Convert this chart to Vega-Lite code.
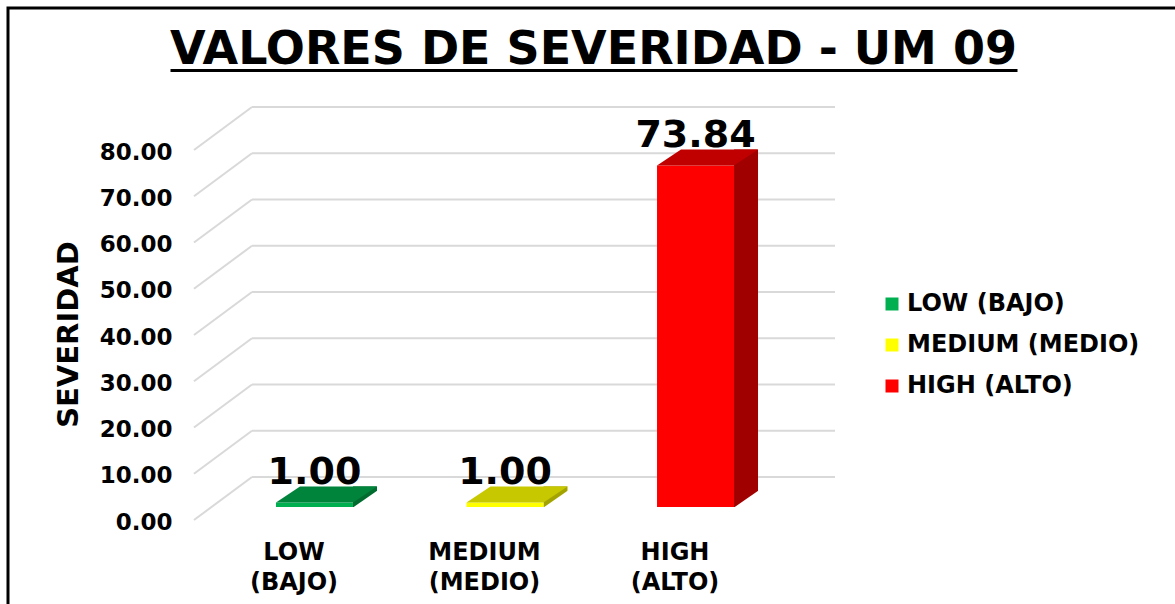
{
  "$schema": "https://vega.github.io/schema/vega-lite/v6.json",
  "autosize": "none",
  "padding": {"left": 8, "top": 8, "right": 0, "bottom": 0},
  "width": 1171,
  "height": 620,
  "background": "white",
  "config": {
    "view": {"stroke": "black", "strokeWidth": 3},
    "font": "DejaVu Sans",
    "axisX": {
      "orient": "bottom", "offset": -98, "domain": false, "ticks": false, "grid": false,
      "labelAngle": 0, "labelFont": "DejaVu Sans", "labelFontWeight": "bold", "labelFontSize": 24,
      "labelColor": "black", "labelPadding": 10, "labelBaseline": "top", "labelLineHeight": 30,
      "labelOffset": -59, "labelLimit": 0
    },
    "axisY": {
      "orient": "left", "offset": -190, "domain": false, "ticks": false, "tickSize": 0, "grid": false,
      "labelFont": "DejaVu Sans", "labelFontWeight": "bold", "labelFontSize": 23, "labelColor": "black",
      "labelPadding": 26, "labelOffset": 45, "labelBaseline": "middle", "labelFlush": false, "labelOverlap": false,
      "titleFont": "DejaVu Sans", "titleFontSize": 29, "titleFontWeight": "bold",
      "titleColor": "black", "titleX": -130, "titleY": 326, "titleAngle": 270, "titleAlign": "center",
      "titleBaseline": "middle"
    }
  },
  "title": {
    "text": "VALORES DE SEVERIDAD - UM 09",
    "font": "DejaVu Sans",
    "fontSize": 46,
    "fontWeight": "bold",
    "color": "black",
    "anchor": "middle",
    "offset": -102,
    "baseline": "alphabetic"
  },
  "datasets": {
    "severidad": [
      {"category": "LOW (BAJO)", "value": 1.00},
      {"category": "MEDIUM (MEDIO)", "value": 1.00},
      {"category": "HIGH (ALTO)", "value": 73.84}
    ],
    "ticks": [
      {"v": 0}, {"v": 10}, {"v": 20}, {"v": 30}, {"v": 40},
      {"v": 50}, {"v": 60}, {"v": 70}, {"v": 80}
    ]
  },
  "resolve": {"scale": {"x": "independent"}, "axis": {"x": "independent"}},
  "layer": [
    {
      "layer": [
        {
          "data": {"name": "ticks"},
          "mark": {"type": "rule", "color": "#D9D9D9", "strokeWidth": 2, "xOffset": -101, "x2Offset": 101},
          "encoding": {
            "x": {"datum": "LOW (BAJO)", "type": "nominal", "title": null,
                  "scale": {"domain": ["LOW (BAJO)", "MEDIUM (MEDIO)", "HIGH (ALTO)"], "range": [244, 827], "paddingInner": 0, "paddingOuter": 0.03}},
            "x2": {"datum": "HIGH (ALTO)"},
            "y": {"field": "v", "type": "quantitative", "title": "SEVERIDAD",
                  "scale": {"domain": [0, 80], "range": [469, 99], "nice": false, "zero": true}}
          }
        },
        {
          "data": {"name": "ticks"},
          "mark": {"type": "rule", "color": "#D9D9D9", "strokeWidth": 2, "xOffset": -159, "x2Offset": -101, "yOffset": 43, "y2Offset": 0},
          "encoding": {
            "x": {"datum": "LOW (BAJO)", "type": "nominal", "title": null},
            "x2": {"datum": "LOW (BAJO)"},
            "y": {"field": "v", "type": "quantitative", "title": "SEVERIDAD"},
            "y2": {"field": "v"}
          }
        },
        {
          "data": {"name": "severidad"},
          "mark": {"type": "bar", "width": 24, "xOffset": 12, "yOffset": 14, "y2Offset": 30},
          "encoding": {
            "x": {"field": "category", "type": "nominal", "title": null},
            "y": {"field": "value", "type": "quantitative", "title": "SEVERIDAD"},
            "y2": {"datum": 0},
            "color": {
              "condition": [
                {"test": "datum.category === 'HIGH (ALTO)'", "value": "#A00000"},
                {"test": "datum.category === 'MEDIUM (MEDIO)'", "value": "#A3A300"}
              ],
              "value": "#006B2E"
            }
          }
        },
        {
          "data": {"name": "severidad"},
          "mark": {"type": "point", "shape": "M0,30.5L24.5,13.5L26,13.5L26,32L0,32Z", "size": 4, "filled": true, "opacity": 1, "strokeWidth": 0, "color": "white"},
          "encoding": {
            "x": {"field": "category", "type": "nominal", "title": null},
            "y": {"datum": 0, "type": "quantitative", "title": "SEVERIDAD"}
          }
        },
        {
          "data": {"name": "severidad"},
          "mark": {"type": "bar", "width": 77, "xOffset": -38.5, "yOffset": 30, "y2Offset": 30},
          "encoding": {
            "x": {
              "field": "category", "type": "nominal", "title": null,
              "axis": {"labelExpr": "split(datum.label, ' ')"}
            },
            "y": {
              "field": "value", "type": "quantitative", "title": "SEVERIDAD",
              "axis": {"values": [0, 10, 20, 30, 40, 50, 60, 70, 80], "format": ".2f"}
            },
            "y2": {"datum": 0},
            "color": {
              "field": "category", "type": "nominal",
              "scale": {"domain": ["LOW (BAJO)", "MEDIUM (MEDIO)", "HIGH (ALTO)"], "range": ["#00B050", "#FFFF00", "#FF0000"]},
              "legend": {
                "orient": "none", "legendX": 872, "legendY": 284, "title": null,
                "symbolType": "square", "symbolSize": 169, "symbolStrokeWidth": 0, "symbolOpacity": 1,
                "labelFont": "DejaVu Sans", "labelFontWeight": "bold", "labelFontSize": 24, "labelColor": "black",
                "labelOffset": 3, "rowPadding": 17, "padding": 0, "labelLimit": 0
              }
            }
          }
        },
        {
          "data": {"name": "severidad"},
          "mark": {"type": "point", "shape": "M-77,30L0,30L24,14L-53,14Z", "size": 4, "filled": true, "opacity": 1, "strokeWidth": 0},
          "encoding": {
            "x": {"field": "category", "type": "nominal", "title": null},
            "y": {"field": "value", "type": "quantitative", "title": "SEVERIDAD"},
            "color": {
              "condition": [
                {"test": "datum.category === 'HIGH (ALTO)'", "value": "#C00000"},
                {"test": "datum.category === 'MEDIUM (MEDIO)'", "value": "#C8C800"}
              ],
              "value": "#00843C"
            }
          }
        },
        {
          "data": {"name": "severidad"},
          "mark": {"type": "text", "dx": -38.5, "dy": 12, "font": "DejaVu Sans", "fontWeight": "bold", "fontSize": 38, "baseline": "alphabetic", "align": "center", "color": "black"},
          "encoding": {
            "x": {"field": "category", "type": "nominal", "title": null},
            "y": {"field": "value", "type": "quantitative", "title": "SEVERIDAD"},
            "text": {"field": "value", "type": "quantitative", "format": ".2f"}
          }
        }
      ]
    },
    {
      "data": {"values": []},
      "mark": {"type": "tick"},
      "encoding": {
        "x": {
          "field": "u", "type": "quantitative", "title": null,
          "scale": {"domain": [0, 1], "range": [162, 1009], "nice": false, "zero": false},
          "axis": {
            "orient": "top", "offset": -62, "domain": true, "domainColor": "black", "domainWidth": 3,
            "labels": false, "ticks": false, "grid": false, "title": null, "labelOffset": 0
          }
        }
      }
    }
  ]
}
